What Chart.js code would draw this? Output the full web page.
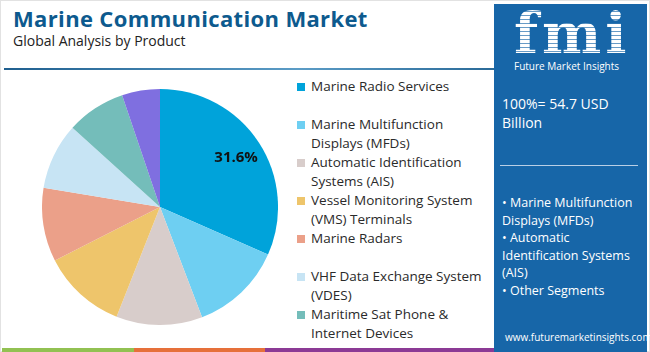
<!DOCTYPE html>
<html>
<head>
<meta charset="utf-8">
<script src="https://cdn.jsdelivr.net/npm/chart.js"></script>
<style>
  body { margin: 0; background: #fff; font-family: "Open Sans", sans-serif; }
  #wrap { position: relative; width: 650px; height: 352px; overflow: hidden; background: #fff; }
  #frame { position: absolute; left: 0; top: 0; width: 648px; height: 350px; border: 1px solid #e2e2e2; }
  #title { position: absolute; left: 13px; top: 3px; font-size: 22px; font-weight: 700; color: #0d5a8e; letter-spacing: 0.35px; }
  #sub { position: absolute; left: 13px; top: 31px; font-size: 14px; color: #222; }
  #rule { position: absolute; left: 4px; top: 68px; width: 490px; height: 2px; background: linear-gradient(90deg, #1f5f8f, #5b9cc6 60%, #2a6a98); }
  #pieBox { position: absolute; left: 42px; top: 89px; width: 236px; height: 236px; }
  #legend { position: absolute; left: 297px; top: 77px; width: 185px; }
  .item { position: relative; height: 38px; padding-left: 14px; font-size: 13.5px; line-height: 19px; color: #2a2a2a; }
  .sw { position: absolute; left: 0; top: 6px; width: 8px; height: 8px; }
  #panel { position: absolute; left: 494px; top: 4px; width: 153px; height: 348px; background: #1766a8; color: #fff; }
  #logo { position: absolute; left: 20px; top: -4px; font-family: "DejaVu Serif", serif; font-weight: 700; font-size: 56px; letter-spacing: 4px;
          background: repeating-linear-gradient(180deg, #fff 0 3px, rgba(255,255,255,0.35) 3px 4px); -webkit-background-clip: text; background-clip: text; color: transparent; }
  #logoSub { position: absolute; left: 20px; top: 55px; font-size: 10px; color: #fff; }
  #total { position: absolute; left: 8px; top: 90px; font-size: 14px; line-height: 19px; }
  #divider { position: absolute; left: 6px; top: 161px; width: 138px; height: 1px; background: #b9cfe6; }
  #segs { position: absolute; left: 8px; top: 190px; width: 140px; font-size: 12.5px; line-height: 17.5px; }
  #site { position: absolute; left: 11px; top: 326px; font-size: 10px; }
  #strip { position: absolute; left: 2px; top: 348px; width: 492px; height: 4px; display: flex; }
</style>
</head>
<body>
<div id="wrap">
  <div id="frame"></div>
  <div id="title">Marine Communication Market</div>
  <div id="sub">Global Analysis by Product</div>
  <div id="rule"></div>
  <div id="pieBox"><canvas id="pie"></canvas></div>
  <div id="legend"></div>
  <div id="panel">
    <div id="logo">fmi</div>
    <div id="logoSub">Future Market Insights</div>
    <div id="total">100%= 54.7 USD<br>Billion</div>
    <div id="divider"></div>
    <div id="segs">• Marine Multifunction Displays (MFDs)<br>• Automatic Identification Systems (AIS)<br>• Other Segments</div>
    <div id="site">www.futuremarketinsights.com</div>
  </div>
  <div id="strip">
    <div style="width:132px;background:#92c152"></div>
    <div style="width:131px;background:#e6703a"></div>
    <div style="width:229px;background:#8c3a95"></div>
  </div>
</div>
<script>
// product segments (purple slice has no legend entry in the source)
const products = [
  'Marine Radio Services',
  'Marine Multifunction Displays (MFDs)',
  'Automatic Identification Systems (AIS)',
  'Vessel Monitoring System (VMS) Terminals',
  'Marine Radars',
  'VHF Data Exchange System (VDES)',
  'Maritime Sat Phone & Internet Devices',
  'Others'
];
const shares = [31.6, 12.6, 11.8, 11.5, 10.1, 9.1, 8.1, 5.2];
const colors = ['#00a3da', '#6ecff2', '#d8cdcb', '#eec56b', '#eba089', '#c7e4f4', '#74bdba', '#7f6fe0'];
const labelled = [true, false, false, false, false, false, false, false];
const inLegend = [true, true, true, true, true, true, true, false];

const legendBox = document.getElementById('legend');
products.forEach((p, i) => {
  if (!inLegend[i]) return;
  const d = document.createElement('div');
  d.className = 'item';
  d.innerHTML = '<span class="sw" style="background:' + colors[i] + '"></span>';
  d.appendChild(document.createTextNode(p));
  legendBox.appendChild(d);
});

const pctLabels = {
  id: 'pctLabels',
  afterDatasetsDraw(chart) {
    const ctx = chart.ctx;
    const meta = chart.getDatasetMeta(0);
    meta.data.forEach((arc, i) => {
      if (!labelled[i]) return;
      const mid = (arc.startAngle + arc.endAngle) / 2;
      const r = arc.outerRadius * 0.77;
      ctx.save();
      ctx.fillStyle = '#111';
      ctx.font = 'bold 15px "Open Sans", sans-serif';
      ctx.textAlign = 'center';
      ctx.textBaseline = 'middle';
      ctx.fillText(shares[i].toFixed(1) + '%', arc.x + Math.cos(mid) * r, arc.y + Math.sin(mid) * r);
      ctx.restore();
    });
  }
};

new Chart(document.getElementById('pie').getContext('2d'), {
  type: 'pie',
  data: {
    labels: products,
    datasets: [{
      data: shares,
      backgroundColor: colors,
      borderWidth: 0
    }]
  },
  options: {
    responsive: true,
    maintainAspectRatio: false,
    animation: false,
    layout: { padding: 0 },
    plugins: { legend: { display: false }, tooltip: { enabled: false } }
  },
  plugins: [pctLabels]
});
</script>
</body>
</html>
